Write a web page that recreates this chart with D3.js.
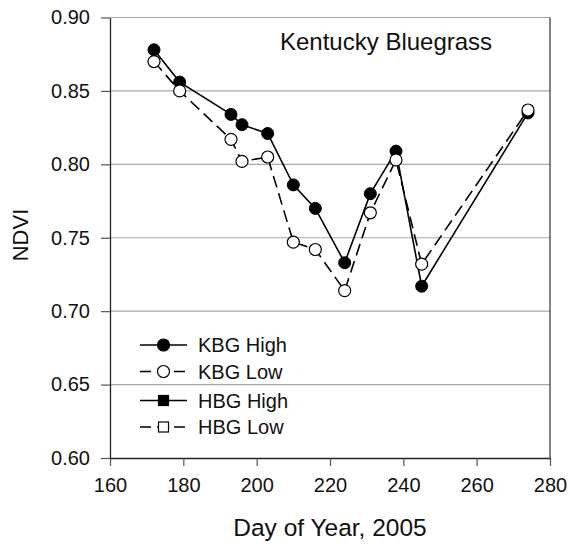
<!DOCTYPE html>
<html>
<head>
<meta charset="utf-8">
<script src="https://cdn.jsdelivr.net/npm/d3@7"></script>
<style>
    body { margin: 0; background: #fff; }
    svg { display: block; font-family: Arial, "Liberation Sans", sans-serif; }
</style>
</head>
<body>
<div id="chart"></div>
<script>
// Data
const days = [172, 179, 193, 196, 203, 210, 216, 224, 231, 238, 245, 274];
const kbgHigh = [0.878, 0.856, 0.834, 0.827, 0.821, 0.786, 0.770, 0.733, 0.780, 0.809, 0.717, 0.835];
const kbgLow = [0.870, 0.850, 0.817, 0.802, 0.805, 0.747, 0.742, 0.714, 0.767, 0.803, 0.732, 0.837];
const xTicks = [160, 180, 200, 220, 240, 260, 280];
const yTicks = [0.60, 0.65, 0.70, 0.75, 0.80, 0.85, 0.90];
const legendLabels = ['KBG High', 'KBG Low', 'HBG High', 'HBG Low'];

function draw() {
    const dimensions = {
        width: 570,
        height: 550,
        margin: { top: 17.5, bottom: 92, left: 110, right: 20 },
    };
    dimensions.ctrWidth = dimensions.width - dimensions.margin.left - dimensions.margin.right;
    dimensions.ctrHeight = dimensions.height - dimensions.margin.top - dimensions.margin.bottom;

    const svg = d3.select('#chart')
        .append('svg')
        .attr('width', dimensions.width)
        .attr('height', dimensions.height);

    const ctr = svg.append('g')
        .attr('transform', `translate(${dimensions.margin.left}, ${dimensions.margin.top})`);

    // Scales
    const xScale = d3.scaleLinear()
        .domain([160, 280])
        .range([0, dimensions.ctrWidth]);

    const yScale = d3.scaleLinear()
        .domain([0.60, 0.90])
        .range([dimensions.ctrHeight, 0]);

    // Gridlines
    ctr.append('g')
        .selectAll('line')
        .data(yTicks.slice(1))
        .join('line')
        .attr('x1', 0)
        .attr('x2', dimensions.ctrWidth)
        .attr('y1', d => yScale(d))
        .attr('y2', d => yScale(d))
        .attr('stroke', '#a8a8a8')
        .attr('stroke-width', 1.2);

    // right border
    ctr.append('line')
        .attr('x1', dimensions.ctrWidth)
        .attr('x2', dimensions.ctrWidth)
        .attr('y1', 0)
        .attr('y2', dimensions.ctrHeight)
        .attr('stroke', '#333')
        .attr('stroke-width', 1.2);

    // Axes
    const xAxis = d3.axisBottom(xScale)
        .tickValues(xTicks)
        .tickSize(8)
        .tickSizeOuter(0)
        .tickPadding(12)
        .tickFormat(d3.format('d'));

    const yAxis = d3.axisLeft(yScale)
        .tickValues(yTicks)
        .tickSize(9)
        .tickSizeOuter(0)
        .tickPadding(11)
        .tickFormat(d3.format('.2f'));

    const xAxisGroup = ctr.append('g')
        .attr('transform', `translate(0, ${dimensions.ctrHeight})`)
        .call(xAxis);

    const yAxisGroup = ctr.append('g')
        .call(yAxis);

    [xAxisGroup, yAxisGroup].forEach(g => {
        g.select('.domain').attr('stroke', '#222').attr('stroke-width', 1.3);
        g.selectAll('.tick line').attr('stroke', '#555').attr('stroke-width', 1.2);
        g.selectAll('.tick text')
            .attr('fill', '#111')
            .style('font-size', '20px')
            .style('font-family', 'Arial, "Liberation Sans", sans-serif');
    });

    svg.append('text')
        .attr('x', dimensions.margin.left + dimensions.ctrWidth / 2)
        .attr('y', 536)
        .attr('text-anchor', 'middle')
        .attr('fill', '#111')
        .style('font-size', '24.5px')
        .text('Day of Year, 2005');

    svg.append('text')
        .attr('transform', 'translate(28, 235) rotate(-90)')
        .attr('text-anchor', 'middle')
        .attr('fill', '#111')
        .style('font-size', '22px')
        .text('NDVI');

    ctr.append('text')
        .attr('x', 170)
        .attr('y', 32)
        .attr('fill', '#111')
        .style('font-size', '24px')
        .text('Kentucky Bluegrass');

    // Lines
    const line = (values) => d3.line()
        .x((d, i) => xScale(days[i]))
        .y(d => yScale(d))(values);

    ctr.append('path')
        .attr('d', line(kbgHigh))
        .attr('fill', 'none')
        .attr('stroke', '#000')
        .attr('stroke-width', 1.6);

    ctr.append('path')
        .attr('d', line(kbgLow))
        .attr('fill', 'none')
        .attr('stroke', '#000')
        .attr('stroke-width', 1.6)
        .attr('stroke-dasharray', '12,6');

    ctr.append('g')
        .selectAll('circle')
        .data(kbgHigh)
        .join('circle')
        .attr('cx', (d, i) => xScale(days[i]))
        .attr('cy', d => yScale(d))
        .attr('r', 6)
        .attr('fill', '#000')
        .attr('stroke', '#000');

    ctr.append('g')
        .selectAll('circle')
        .data(kbgLow)
        .join('circle')
        .attr('cx', (d, i) => xScale(days[i]))
        .attr('cy', d => yScale(d))
        .attr('r', 6)
        .attr('fill', '#fff')
        .attr('stroke', '#000')
        .attr('stroke-width', 1.2);

    // Legend
    const legendRows = [345, 371.5, 400.5, 427];
    const legend = svg.append('g');
    legendLabels.forEach((label, i) => {
        const y = legendRows[i];
        const low = label.endsWith('Low');
        const square = label.startsWith('HBG');
        legend.append('line')
            .attr('x1', 140)
            .attr('x2', 187)
            .attr('y1', y)
            .attr('y2', y)
            .attr('stroke', '#000')
            .attr('stroke-width', 1.6)
            .attr('stroke-dasharray', low ? '11,6' : null);
        if (square) {
            legend.append('rect')
                .attr('x', 163.5 - 5)
                .attr('y', y - 5)
                .attr('width', 10)
                .attr('height', 10)
                .attr('fill', low ? '#fff' : '#000')
                .attr('stroke', '#000')
                .attr('stroke-width', 1.2);
        } else {
            legend.append('circle')
                .attr('cx', 163.5)
                .attr('cy', y)
                .attr('r', 6)
                .attr('fill', low ? '#fff' : '#000')
                .attr('stroke', '#000')
                .attr('stroke-width', 1.2);
        }
        legend.append('text')
            .attr('x', 198)
            .attr('y', y + 7)
            .attr('fill', '#111')
            .style('font-size', '20px')
            .text(label);
    });
}

draw();
</script>
</body>
</html>
